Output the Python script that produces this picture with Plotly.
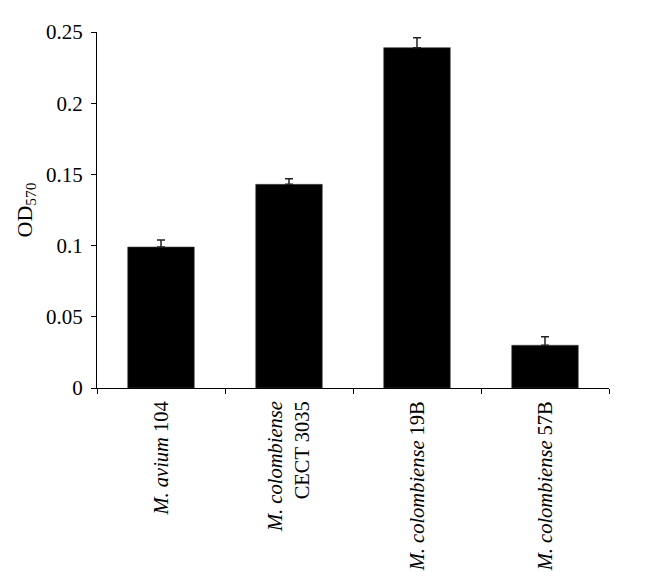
import plotly.graph_objects as go

cepas = [
    "<i>M. avium</i> 104",
    "<i>M. colombiense</i><br>CECT 3035",
    "<i>M. colombiense</i> 19B",
    "<i>M. colombiense</i> 57B",
]
od570 = [0.099, 0.143, 0.239, 0.030]
error = [0.005, 0.004, 0.007, 0.006]

fuente = "Liberation Serif"

fig = go.Figure(
    go.Bar(
        x=cepas,
        y=od570,
        marker_color="black",
        marker_line=dict(color="#444444", width=0.6),
        width=0.52,
        error_y=dict(
            type="data",
            array=error,
            arrayminus=[0] * len(error),
            symmetric=False,
            color="#222222",
            thickness=1.5,
            width=4,
        ),
    )
)

# margenes ajustados por el margen de 8px del body
fig.update_layout(
    width=656,
    height=588,
    plot_bgcolor="white",
    paper_bgcolor="white",
    margin=dict(l=89, r=55, t=14, b=208),
    font=dict(family=fuente, size=18, color="black"),
    showlegend=False,
)

fig.update_xaxes(
    tickangle=-90,
    showline=True,
    linecolor="black",
    linewidth=1,
    ticks="outside",
    tickson="boundaries",
    ticklen=5,
    tickcolor="black",
    showgrid=False,
    ticklabelstandoff=4,
    tickfont=dict(family=fuente, size=20.5),
)

fig.update_yaxes(
    range=[0, 0.25],
    tickvals=[0, 0.05, 0.1, 0.15, 0.2, 0.25],
    ticktext=["0", "0.05", "0.1", "0.15", "0.2", "0.25"],
    showline=True,
    linecolor="black",
    linewidth=1,
    ticks="outside",
    ticklen=5,
    tickcolor="black",
    showgrid=False,
    zeroline=False,
    ticklabelstandoff=4,
    tickfont=dict(family=fuente, size=21),
    title=dict(text="OD<sub>570</sub>", font=dict(family=fuente, size=22), standoff=7),
)

fig.write_html("out.html")
